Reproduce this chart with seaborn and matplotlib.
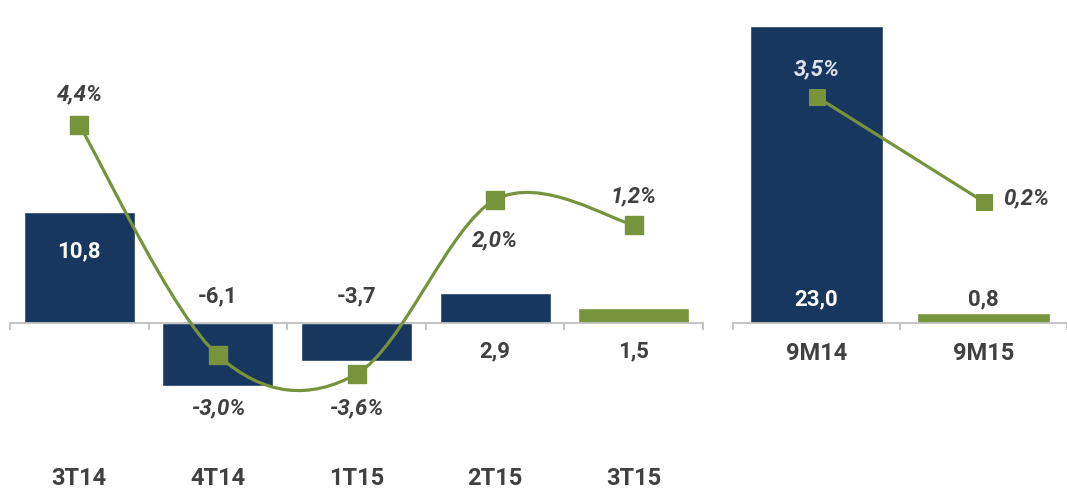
import numpy as np
import matplotlib
matplotlib.use("Agg")
import matplotlib.pyplot as plt
from matplotlib.path import Path
from matplotlib.patches import PathPatch
import seaborn as sns

# quarterly data
quarters = ["3T14", "4T14", "1T15", "2T15", "3T15"]
q_values = [10.8, -6.1, -3.7, 2.9, 1.5]
q_labels = ["10,8", "-6,1", "-3,7", "2,9", "1,5"]
q_pct = [4.4, -3.0, -3.6, 2.0, 1.2]
q_pct_labels = ["4,4%", "-3,0%", "-3,6%", "2,0%", "1,2%"]

# nine-month data
periods = ["9M14", "9M15"]
p_values = [23.0, 0.8]
p_labels = ["23,0", "0,8"]
p_pct = [3.5, 0.2]
p_pct_labels = ["3,5%", "0,2%"]

navy = "#17375E"
green = "#77933C"
txt = "#404040"
axis_grey = "#BFBFBF"

sns.set_theme(style="white")
plt.rcParams["font.family"] = ["Roboto", "DejaVu Sans"]

FS = 16      # data labels
FS_CAT = 17  # category labels

W, H = 1067, 493
fig = plt.figure(figsize=(W / 100, H / 100), dpi=100)


def px_axes(x0, x1):
    return fig.add_axes([x0 / W, 0, (x1 - x0) / W, 1])


def style_axis(ax, cats, pad):
    n = len(cats)
    for s in ["top", "right", "left"]:
        ax.spines[s].set_visible(False)
    ax.spines["bottom"].set_position(("data", 0))
    ax.spines["bottom"].set_color(axis_grey)
    ax.spines["bottom"].set_linewidth(1.3)
    ax.set_yticks([])
    ax.set_xticks(range(n))
    ax.set_xticklabels(cats, fontweight="bold", fontsize=FS_CAT, color=txt)
    ax.set_xticks(np.arange(-0.5, n + 0.5, 1), minor=True)
    ax.tick_params(axis="x", which="major", length=0, pad=pad)
    ax.tick_params(axis="x", which="minor", length=5, color=axis_grey,
                   width=1.3, direction="out", bottom=True)
    ax.set_xlabel("")
    ax.set_ylabel("")


def smooth_path(xs, ys):
    # Excel-style smoothed line (Catmull-Rom bezier through the points)
    pts = list(zip(xs, ys))
    verts = [pts[0]]
    codes = [Path.MOVETO]
    n = len(pts)
    for i in range(n - 1):
        p0 = pts[i - 1] if i > 0 else pts[i]
        p1, p2 = pts[i], pts[i + 1]
        p3 = pts[i + 2] if i + 2 < n else pts[i + 1]
        c1 = (p1[0] + (p2[0] - p0[0]) / 6, p1[1] + (p2[1] - p0[1]) / 6)
        c2 = (p2[0] - (p3[0] - p1[0]) / 6, p2[1] - (p3[1] - p1[1]) / 6)
        verts += [c1, c2, p2]
        codes += [Path.CURVE4] * 3
    return Path(verts, codes)


# ---- left panel: quarters ----
ax1 = px_axes(10, 703)
sns.barplot(x=quarters, y=q_values, hue=quarters,
            palette=[navy, navy, navy, navy, green], width=0.8,
            saturation=1, legend=False, ax=ax1)
ax1.set_xlim(-0.5, 4.5)
ax1.set_ylim(-(H - 323) / 10.3, 323 / 10.3)
style_axis(ax1, quarters, pad=104)

# value labels
q_label_pos = [(7.0, "white"), (2.6, txt), (2.6, txt), (-2.8, txt), (-2.8, txt)]
for i, (lab, (yy, col)) in enumerate(zip(q_labels, q_label_pos)):
    ax1.text(i, yy, lab, ha="center", va="center", fontsize=FS,
             fontweight="bold", color=col)

ax1b = ax1.twinx()
ax1b.set_ylim(-(H - 262) / 31.1, 262 / 31.1)
ax1b.add_patch(PathPatch(smooth_path(range(len(quarters)), q_pct),
                         facecolor="none", edgecolor=green, lw=2.3, zorder=3))
sns.scatterplot(x=list(range(len(quarters))), y=q_pct, marker="s", s=150,
                color=green, edgecolor=green, zorder=4, ax=ax1b)
ax1b.set_axis_off()
pct_off = [1.0, -1.7, -1.1, -1.3, 0.9]
for i, (v, lab, off) in enumerate(zip(q_pct, q_pct_labels, pct_off)):
    ax1b.text(i, v + off, lab, ha="center", va="center", fontsize=FS,
              fontweight="bold", fontstyle="italic", color=txt)

# ---- right panel: nine months ----
ax2 = px_axes(733, 1067)
sns.barplot(x=periods, y=p_values, hue=periods, palette=[navy, green],
            width=0.8, saturation=1, legend=False, ax=ax2)
ax2.set_xlim(-0.5, -0.5 + 334 / 174)
ax2.set_ylim(-(H - 323) / 12.9, 323 / 12.9)
style_axis(ax2, periods, pad=14)

p_label_pos = [(1.8, "white"), (1.8, txt)]
for i, (lab, (yy, col)) in enumerate(zip(p_labels, p_label_pos)):
    ax2.text(i, yy, lab, ha="center", va="center", fontsize=FS,
             fontweight="bold", color=col)

ax2b = ax2.twinx()
ax2b.set_ylim(-(H - 208) / 31.8, 208 / 31.8)
sns.lineplot(x=[0, 1], y=p_pct, color=green, lw=2.3, marker="s",
             markersize=12, markeredgecolor=green, ax=ax2b)
ax2b.set_axis_off()
ax2b.text(0, p_pct[0] + 0.85, p_pct_labels[0], ha="center", va="center",
          fontsize=FS, fontweight="bold", fontstyle="italic", color="#DCE3EE")
ax2b.text(1.12, p_pct[1] + 0.1, p_pct_labels[1], ha="left", va="center",
          fontsize=FS, fontweight="bold", fontstyle="italic", color=txt)

fig.savefig("out.png", dpi=100)
